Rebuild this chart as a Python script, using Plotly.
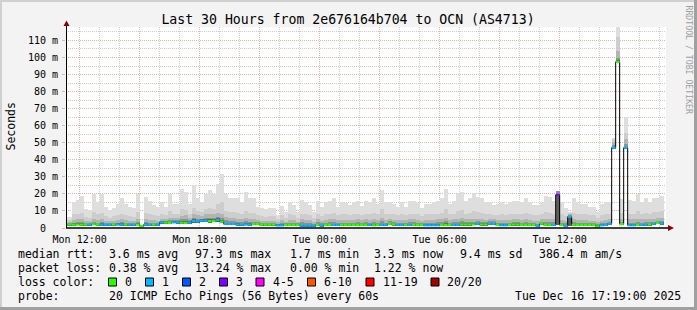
import plotly.graph_objects as go
import pandas as pd

# ---------------- data ----------------
TITLE = "Last 30 Hours from 2e676164b704 to OCN (AS4713)"
SERIES_START = "2025-12-15 11:12"      # first 12-minute column
STEP_MIN = 12
RANGE = ["2025-12-15 11:19", "2025-12-16 17:19"]

median = [2.0,2.0,2.0,2.0,2.0,2.0,2.0,2.2,2.0,2.0,
          2.0,2.0,2.0,2.0,2.0,2.0,2.0,2.0,2.0,1.1,
          2.0,2.0,2.0,2.0,3.3,3.2,3.0,3.3,3.3,3.1,
          3.0,3.2,4.1,4.0,4.3,4.3,4.0,4.1,4.7,3.7,
          2.4,2.4,2.4,2.0,2.0,2.0,2.0,2.3,2.3,1.9,
          1.9,1.9,1.9,1.5,1.5,1.8,1.8,1.8,1.8,1.4,
          1.4,1.4,1.4,1.8,1.4,1.8,1.8,1.8,1.8,1.8,
          1.8,1.9,1.8,1.7,1.8,1.8,1.9,1.6,1.8,1.8,
          1.8,2.4,2.0,1.8,1.8,1.8,1.8,1.8,1.8,1.8,
          1.6,1.6,1.6,1.6,1.8,1.8,1.8,1.8,1.8,2.1,
          2.1,2.1,2.1,2.5,2.1,2.1,2.5,2.5,1.8,1.6,
          1.6,1.8,2.1,2.1,1.8,1.8,1.8,1.8,1.2,2.5,
          1.8,1.8,1.8,19.4,1.8,1.2,6.6,1.8,1.8,1.8,
          1.8,1.8,1.8,1.0,1.6,1.8,2.5,47.1,97.5,2.3,
          47.1,1.6,1.6,1.8,1.8,2.0,2.0,2.5,3.0,2.8]

loss = [0,0,0,0,0,0,1,0,0,1,
        1,1,0,1,1,0,1,1,0,0,
        1,1,0,1,1,0,0,1,1,0,
        0,1,1,1,1,1,0,0,1,0,
        1,1,1,1,1,1,1,0,0,0,
        0,0,0,1,1,0,0,0,0,1,
        1,1,1,0,1,0,0,1,1,0,
        0,0,0,0,0,0,1,0,0,1,
        1,0,0,1,1,0,1,0,0,0,
        1,1,1,1,0,0,0,1,1,0,
        0,0,0,1,0,0,1,1,0,1,
        1,0,0,0,0,0,0,0,1,0,
        0,0,1,3,0,1,1,0,0,0,
        0,0,0,0,1,1,1,1,0,0,
        1,1,1,0,1,1,0,1,0,1]

rtt_min = [1.6,1.6,1.6,1.6,1.6,1.5,1.6,1.7,1.6,1.6,
           1.5,1.6,1.6,1.5,1.6,1.6,1.5,1.6,1.6,0.9,
           1.6,1.6,1.6,1.6,2.6,2.6,2.5,2.7,2.6,2.5,
           2.5,2.6,3.2,3.2,3.4,3.4,3.2,3.3,3.6,3.0,
           1.9,1.9,1.9,1.6,1.6,1.6,1.6,1.8,1.8,1.5,
           1.5,1.5,1.5,1.2,1.2,1.4,1.4,1.4,1.4,1.1,
           1.1,1.1,1.1,1.4,1.1,1.4,1.4,1.4,1.4,1.4,
           1.4,1.5,1.4,1.3,1.4,1.4,1.5,1.3,1.4,1.4,
           1.4,1.9,1.6,1.4,1.4,1.4,1.4,1.4,1.4,1.4,
           1.3,1.3,1.3,1.3,1.4,1.4,1.4,1.4,1.4,1.7,
           1.7,1.7,1.7,2.0,1.7,1.7,2.0,2.0,1.4,1.3,
           1.3,1.4,1.7,1.7,1.4,1.4,1.4,1.4,1.0,2.0,
           1.4,1.4,1.4,1.5,1.4,1.0,1.4,1.4,1.4,1.4,
           1.4,1.4,1.4,0.8,1.3,1.4,2.0,46.8,97.2,1.9,
           46.8,1.3,1.3,1.4,1.4,1.6,1.6,2.0,2.4,2.3]

smoke_core = [2.5,2.5,2.7,2.8,2.7,2.6,2.6,2.9,2.6,2.7,
              2.6,2.6,2.6,2.7,2.7,2.6,2.6,2.6,2.9,1.15,
              2.7,2.6,2.6,2.6,4.0,3.9,3.8,4.1,4.2,4.0,
              4.0,4.0,5.0,4.9,5.2,5.3,5.0,5.0,5.7,4.8,
              3.2,3.1,3.1,2.7,2.6,2.8,2.7,2.9,2.9,2.4,
              2.4,2.4,2.4,2.0,2.1,2.3,2.4,2.3,2.3,1.9,
              1.9,2.0,1.9,2.4,1.9,2.4,2.4,2.5,2.4,2.4,
              2.4,2.5,2.4,2.3,2.4,2.4,2.5,2.2,2.4,2.6,
              2.4,3.0,2.6,2.4,2.4,2.4,2.5,2.5,2.4,2.3,
              2.2,2.2,2.2,2.3,2.5,2.7,2.4,2.5,2.6,2.8,
              2.8,2.8,2.9,3.1,2.8,2.7,3.1,3.1,2.4,2.2,
              2.2,2.4,2.7,2.7,2.4,2.4,2.4,2.3,1.8,3.0,
              2.6,2.5,2.5,19.4,2.4,1.8,6.6,2.4,2.4,2.4,
              2.4,2.3,2.3,1.5,2.2,2.4,3.0,47.5,98.5,2.8,
              47.6,2.2,2.2,2.5,2.4,2.6,2.6,3.1,3.5,3.4]

smoke_lo = [3.0,2.7,3.2,3.5,3.4,3.0,3.2,3.6,3.2,3.4,
            3.1,3.0,3.1,3.2,3.5,3.2,3.1,3.0,3.8,1.15,
            3.3,3.2,3.2,3.1,4.3,4.2,4.5,4.6,4.8,5.0,
            5.3,4.5,5.8,5.5,5.5,6.0,6.0,5.8,6.5,6.0,
            4.5,4.2,4.2,3.8,3.5,4.0,3.8,3.8,3.3,3.2,
            3.0,3.2,3.2,2.6,3.2,2.8,3.2,3.2,2.8,3.5,
            3.2,3.2,2.6,3.5,3.0,3.2,3.4,3.4,3.2,3.2,
            3.2,3.2,3.2,3.5,3.2,3.5,3.2,3.5,3.2,4.0,
            3.2,4.0,3.4,3.2,3.2,3.2,3.5,3.5,3.2,3.0,
            3.2,3.2,3.2,3.5,3.5,4.0,3.2,3.5,3.8,4.0,
            3.8,3.8,3.8,4.0,3.8,3.5,4.0,4.0,3.2,3.2,
            3.2,3.2,3.5,3.5,3.2,3.5,3.2,3.0,2.5,3.8,
            3.8,3.5,3.5,21.7,3.2,2.8,7.5,3.5,3.2,3.2,
            3.2,3.0,3.0,2.5,3.0,3.2,3.8,48.5,100.0,3.5,
            49.5,3.2,3.2,3.5,3.2,3.5,3.5,3.8,4.2,4.2]

smoke_mid = [3.2,3.5,4.5,5.0,5.0,4.0,4.0,5.0,4.5,5.0,
             4.2,4.0,4.2,4.5,5.0,4.5,4.2,4.0,5.5,1.2,
             5.0,4.5,4.5,4.2,5.5,5.5,6.0,6.0,6.0,7.0,
             7.5,6.0,8.0,7.5,7.0,8.0,8.5,8.0,9.0,8.5,
             6.5,6.0,6.0,5.5,5.0,6.0,5.5,5.5,4.5,4.2,
             4.0,4.2,4.2,3.5,4.5,3.8,4.5,4.5,3.8,5.0,
             4.5,4.5,3.8,5.0,4.2,4.5,5.0,5.0,4.5,4.5,
             4.5,4.5,4.5,5.0,4.5,5.0,4.5,5.0,4.5,6.0,
             4.5,5.5,4.8,4.5,4.5,4.5,5.0,5.0,4.5,4.2,
             4.5,4.5,4.5,5.0,5.0,6.0,4.5,5.0,5.5,6.0,
             5.2,5.2,5.5,5.5,5.2,4.8,5.2,5.2,4.5,4.5,
             4.5,4.5,5.0,5.0,4.5,5.0,4.5,4.2,4.2,5.0,
             5.5,5.0,5.0,21.7,4.5,4.0,8.5,5.0,4.5,4.5,
             4.5,4.2,4.2,3.5,4.2,4.5,5.0,50.5,104.0,5.0,
             52.0,5.0,5.0,5.5,5.0,5.5,5.0,5.5,5.8,6.0]

smoke_hi = [4.5,4.5,8.0,8.5,9.0,6.5,6.0,9.5,8.0,9.0,
            7.0,6.0,7.0,7.5,8.5,7.5,7.0,6.5,9.5,1.3,
            9.0,8.0,7.5,7.0,8.0,7.5,10.0,8.5,8.5,11.0,
            10.5,8.5,12.0,10.0,9.5,11.0,12.0,11.0,14.0,15.0,
            10.0,9.5,9.5,9.0,8.5,10.0,9.0,9.0,7.5,7.0,
            6.5,7.0,7.0,5.0,7.5,6.0,8.0,7.5,6.0,8.5,
            8.0,7.5,6.0,8.5,7.0,8.0,8.5,9.0,7.5,8.0,
            8.0,7.5,8.0,8.5,7.5,8.5,8.0,9.0,8.0,11.0,
            8.0,8.0,8.0,7.5,8.0,7.5,8.5,8.5,8.0,7.0,
            8.0,8.0,8.0,8.5,9.0,11.0,8.0,8.5,10.0,10.5,
            8.5,9.0,10.0,9.5,9.0,8.0,8.0,7.5,7.5,8.0,
            7.5,8.0,8.5,8.5,8.0,9.0,8.0,7.5,7.5,8.0,
            9.5,9.0,8.5,21.7,8.0,7.0,9.0,9.0,8.0,8.0,
            8.0,7.5,7.5,6.0,7.5,8.0,8.0,52.0,112.0,9.0,
            56.0,8.5,8.5,10.0,8.5,9.0,8.5,9.5,9.5,10.0]

rtt_max = [6.6,6.6,15,16.4,19,11,10.5,20,15,20,
           12.5,10.5,12,14,17.4,14,12.5,11.5,20,1.5,
           18,16,13.5,12.5,15,12.5,20,14,14,23,
           21,14,25,17.4,15,20,22,20,26,31.7,
           20,17.4,17.4,17.8,15.4,21,17.4,17.4,12.5,12,
           11,12,11.5,7.6,13,9.6,15.4,13.5,9.6,16.4,
           15,13.5,9.6,16,12.5,15,16,17.4,12.5,15,
           14.5,13.5,15,16,13,16,15.4,17.4,14,22,
           15,15,14,12.5,15,12.5,16,16,15,11.5,
           14,14,15,16,17.4,23,14,16,20,21,
           16,17.8,20.3,18,17.8,15,15,13.5,14,15,
           14,15,16,16,15,17.4,15,13.5,13.5,15,
           18.8,18,16,21.7,15,11.5,9.6,17.4,15,14,
           14,12.5,12.5,9.6,14,15,15,52.6,117.9,16.8,
           65,16.4,15.9,19.7,15.4,17.4,15,17.8,17.4,19]

x_tick_vals = ["2025-12-15 12:00", "2025-12-15 15:00", "2025-12-15 18:00", "2025-12-15 21:00",
               "2025-12-16 00:00", "2025-12-16 03:00", "2025-12-16 06:00", "2025-12-16 09:00",
               "2025-12-16 12:00", "2025-12-16 15:00"]
x_tick_text = ["Mon 12:00", "", "Mon 18:00", "", "Tue 00:00", "", "Tue 06:00", "", "Tue 12:00", ""]
y_tick_vals = [0, 10, 20, 30, 40, 50, 60, 70, 80, 90, 100, 110]
y_tick_text = ["0\u00a0\u00a0", "10 m", "20 m", "30 m", "40 m", "50 m", "60 m", "70 m",
               "80 m", "90 m", "100 m", "110 m"]
Y_MAX = 117.9

loss_labels = ["0", "1", "2", "3", "4-5", "6-10", "11-19", "20/20"]
loss_colors = ["#26ff00", "#00b8ff", "#0059ff", "#7e00ff", "#ff00ff", "#ff5500", "#ff0000", "#a10000"]

rtt_stats = ["3.6 ms avg", "97.3 ms max", "1.7 ms min", "3.3 ms now", "9.4 ms sd", "386.4 m am/s"]
loss_stats = ["0.38 % avg", "13.24 % max", "0.00 % min", "1.22 % now"]
probe_text = "20 ICMP Echo Pings (56 Bytes) every 60s"
stamp_text = "Tue Dec 16 17:19:00 2025"
side_text = "RRDTOOL / TOBI OETIKER"

n = len(median)
for arr in (loss, rtt_min, smoke_core, smoke_lo, smoke_mid, smoke_hi, rtt_max):
    assert len(arr) == n

# ---------------- geometry helpers ----------------
W, H = 697, 310
L, R, T, B = 66, 31, 27, 82
PW, PH = W - L - R, H - T - B
MONO = "DejaVu Sans Mono"


def px(x):
    return (x - L) / PW


def py(y):
    return (T + PH - y) / PH


start = pd.Timestamp(SERIES_START)
step = pd.Timedelta(minutes=STEP_MIN)
starts = [start + step * i for i in range(n)]
centers = [s + step / 2 for s in starts]
width_ms = STEP_MIN * 60 * 1000

fig = go.Figure()

bands = [(rtt_max, "#dedede"), (smoke_hi, "#cdcdcd"), (smoke_mid, "#b3b3b3"),
         (smoke_lo, "#909090"), (smoke_core, "#5e5e5e")]
for top, col in bands:
    fig.add_trace(go.Bar(
        x=centers, base=rtt_min, y=[t - b for t, b in zip(top, rtt_min)],
        width=width_ms, marker=dict(color=col, line=dict(width=0)),
        hoverinfo="skip", showlegend=False))

# black step line through the medians
fig.add_trace(go.Scatter(
    x=starts + [starts[-1] + step], y=median + [median[-1]], mode="lines",
    line=dict(color="black", width=1, shape="hv"), hoverinfo="skip", showlegend=False))

# colored median segments by loss class
for ci, col in enumerate(loss_colors):
    xs, ys = [], []
    for i in range(n):
        if loss[i] == ci:
            xs += [starts[i], starts[i] + step, None]
            ys += [median[i], median[i], None]
    if xs:
        fig.add_trace(go.Scatter(x=xs, y=ys, mode="lines", line=dict(color=col, width=2.2),
                                 hoverinfo="skip", showlegend=False))

pink = "#f0b0b0"
grey = "#cccccc"
fig.update_xaxes(
    type="date", range=RANGE, tickmode="array", tickvals=x_tick_vals, ticktext=x_tick_text,
    showgrid=True, gridcolor=pink, griddash="1px,1px", gridwidth=1,
    minor=dict(tickmode="linear", tick0="2025-12-15 12:00", dtick=3600000, showgrid=True,
               gridcolor=grey, griddash="1px,1px", ticks=""),
    ticks="", ticklabelstandoff=4, showline=False, zeroline=False,
    tickfont=dict(family=MONO, size=10, color="black"), fixedrange=True)
fig.update_yaxes(
    range=[0, Y_MAX], tickmode="array", tickvals=y_tick_vals, ticktext=y_tick_text,
    showgrid=True, gridcolor=pink, griddash="1px,1px", gridwidth=1,
    minor=dict(tickmode="linear", tick0=0, dtick=5, showgrid=True, gridcolor=grey,
               griddash="1px,1px", ticks=""),
    ticks="outside", ticklen=3, tickcolor=pink, ticklabelstandoff=2,
    showline=False, zeroline=False,
    tickfont=dict(family=MONO, size=10, color="black"), fixedrange=True)

shapes = []
# axes lines with arrows
shapes.append(dict(type="line", xref="paper", yref="paper", x0=px(66), x1=px(668), y0=py(228), y1=py(228),
                   line=dict(color="black", width=1.5)))
shapes.append(dict(type="line", xref="paper", yref="paper", x0=px(66.5), x1=px(66.5), y0=py(228), y1=py(24),
                   line=dict(color="black", width=1)))
shapes.append(dict(type="path", xref="paper", yref="paper",
                   path=f"M {px(63.5)},{py(26)} L {px(69.5)},{py(26)} L {px(66.5)},{py(20.5)} Z",
                   fillcolor="#8b0000", line=dict(width=0)))
shapes.append(dict(type="path", xref="paper", yref="paper",
                   path=f"M {px(668)},{py(225)} L {px(668)},{py(231)} L {px(674)},{py(228)} Z",
                   fillcolor="#8b0000", line=dict(width=0)))
# 3D frame
shapes.append(dict(type="rect", xref="paper", yref="paper", x0=px(0), x1=px(697), y0=py(0), y1=py(2),
                   fillcolor="#d0d0d0", line=dict(width=0)))
shapes.append(dict(type="rect", xref="paper", yref="paper", x0=px(0), x1=px(2), y0=py(0), y1=py(310),
                   fillcolor="#d0d0d0", line=dict(width=0)))
shapes.append(dict(type="rect", xref="paper", yref="paper", x0=px(0), x1=px(697), y0=py(307), y1=py(310),
                   fillcolor="#a0a0a0", line=dict(width=0)))
shapes.append(dict(type="rect", xref="paper", yref="paper", x0=px(694), x1=px(697), y0=py(0), y1=py(310),
                   fillcolor="#a0a0a0", line=dict(width=0)))

annotations = []


def txt(x, y, s, size=11.5, **kw):
    d = dict(xref="paper", yref="paper", x=px(x), y=py(y), text=s, showarrow=False,
             xanchor="left", yanchor="middle", font=dict(family=MONO, size=size, color="black"))
    d.update(kw)
    annotations.append(d)


# legend / statistics lines
row_y = [254, 268, 282, 296]
txt(16, row_y[0], "median rtt:")
for xx, s in zip([107, 192.5, 287.5, 372, 458, 537], rtt_stats):
    txt(xx, row_y[0], s)
txt(16, row_y[1], "packet loss:")
for xx, s in zip([107, 192.5, 287.5, 372], loss_stats):
    txt(xx, row_y[1], s)
txt(16, row_y[2], "loss color:")
box_x = [108.5, 145.5, 182.5, 219.5, 256, 307.5, 366, 431]
for bx, lab, col in zip(box_x, loss_labels, loss_colors):
    shapes.append(dict(type="rect", xref="paper", yref="paper", x0=px(bx), x1=px(bx + 8),
                       y0=py(row_y[2] - 4), y1=py(row_y[2] + 4), fillcolor=col,
                       line=dict(color="black", width=1)))
    txt(bx + 14.5, row_y[2], lab)
txt(16, row_y[3], "probe:")
txt(107, row_y[3], probe_text)
txt(513, row_y[3], stamp_text)

# y-axis title
annotations.append(dict(xref="paper", yref="paper", x=px(10.5), y=py(127), text="Seconds", showarrow=False,
                        textangle=-90, xanchor="center", yanchor="middle",
                        font=dict(family=MONO, size=11.5, color="black")))
# side watermark
annotations.append(dict(xref="paper", yref="paper", x=px(688.5), y=py(60), text=side_text, showarrow=False,
                        textangle=90, xanchor="center", yanchor="middle",
                        font=dict(family=MONO, size=8.2, color="#a0a0a0")))

fig.update_layout(
    width=W, height=H, margin=dict(l=L, r=R, t=T, b=B, pad=0),
    paper_bgcolor="#f3f3f3", plot_bgcolor="white", barmode="overlay", bargap=0,
    showlegend=False, shapes=shapes, annotations=annotations,
    title=dict(text=TITLE, x=348 / W, xanchor="center", xref="container",
               y=1 - 19.5 / H, yanchor="middle", yref="container",
               font=dict(family=MONO, size=13.2, color="black")),
    font=dict(family=MONO, color="black"))

fig.write_html("out.html")
